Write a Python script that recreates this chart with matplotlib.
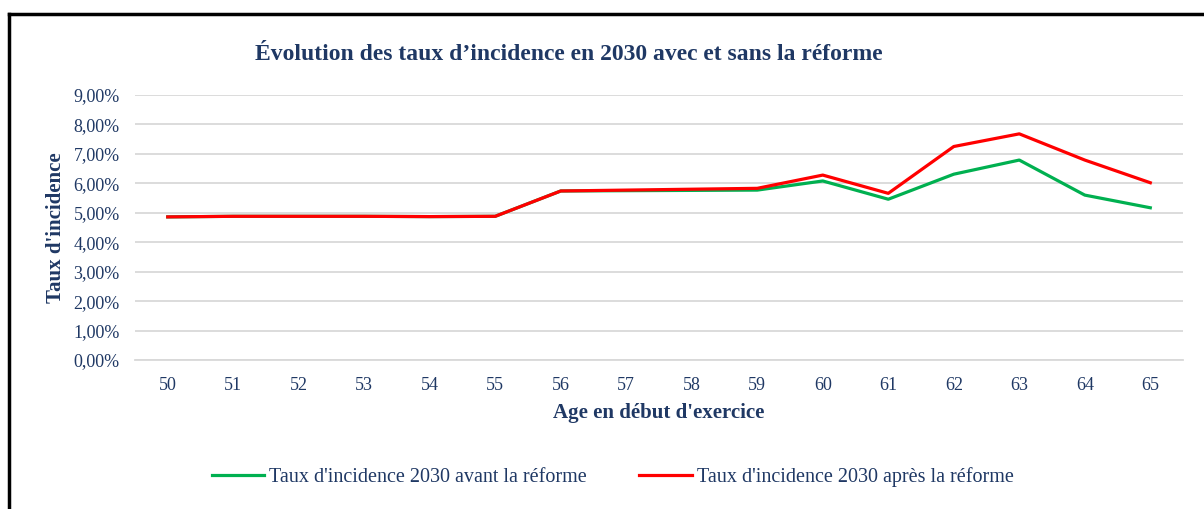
import matplotlib.pyplot as plt
from matplotlib.lines import Line2D
from matplotlib.ticker import FuncFormatter

ages = list(range(50, 66))
avant = [4.86, 4.88, 4.88, 4.88, 4.87, 4.88, 5.74, 5.75, 5.76, 5.77,
         6.08, 5.46, 6.31, 6.79, 5.60, 5.17]
apres = [4.86, 4.88, 4.88, 4.88, 4.87, 4.88, 5.74, 5.77, 5.80, 5.83,
         6.28, 5.66, 7.25, 7.68, 6.79, 6.02]

navy = "#1F3864"
plt.rcParams['font.family'] = ['Liberation Serif', 'DejaVu Serif']

fig = plt.figure(figsize=(12.04, 5.09), dpi=100)
ax = fig.add_axes([0.1121, 0.2927, 0.8705, 0.5207])

ax.plot(ages, avant, color="#00B050", linewidth=2.3,
        label="Taux d'incidence 2030 avant la réforme")
ax.plot(ages, apres, color="#FF0000", linewidth=2.3,
        label="Taux d'incidence 2030 après la réforme")

ax.set_xlim(49.5, 65.5)
ax.set_ylim(0, 9)
ax.set_xticks(ages)
ax.set_yticks(range(0, 10))
ax.yaxis.set_major_formatter(FuncFormatter(lambda v, p: f"{v:.2f}".replace(".", ",") + "%"))

ax.grid(axis="y", color="#D9D9D9", linewidth=1.3)
ax.set_axisbelow(True)
for s in ["top", "right", "left"]:
    ax.spines[s].set_visible(False)
ax.spines["bottom"].set_color("#D9D9D9")
ax.spines["bottom"].set_linewidth(1.3)
ax.tick_params(length=0, labelsize=13, labelcolor=navy)
ax.tick_params(axis="x", pad=12)
ax.tick_params(axis="y", pad=11)

ax.set_xlabel("Age en début d'exercice", fontsize=15, fontweight="bold",
              color=navy, labelpad=7)
ax.set_ylabel("Taux d'incidence", fontsize=15, fontweight="bold",
              color=navy, labelpad=5)

fig.text(0.4726, 0.893, "Évolution des taux d’incidence en 2030 avec et sans la réforme",
         ha="center", va="center", fontsize=17, fontweight="bold", color=navy)

leg = fig.legend(loc="center", bbox_to_anchor=(0.509, 0.062), ncol=2,
                 frameon=False, fontsize=14.5, handlelength=2.6,
                 handletextpad=0.25, columnspacing=2.6)
for t in leg.get_texts():
    t.set_color(navy)

# frame (top and left edges)
fig.add_artist(Line2D([0.0075, 1.0], [0.972, 0.972], transform=fig.transFigure,
                      color="black", linewidth=2.5))
fig.add_artist(Line2D([0.0075, 0.0075], [0.0, 0.972], transform=fig.transFigure,
                      color="black", linewidth=2.5))

fig.savefig("out.png", dpi=100)
plt.close()
